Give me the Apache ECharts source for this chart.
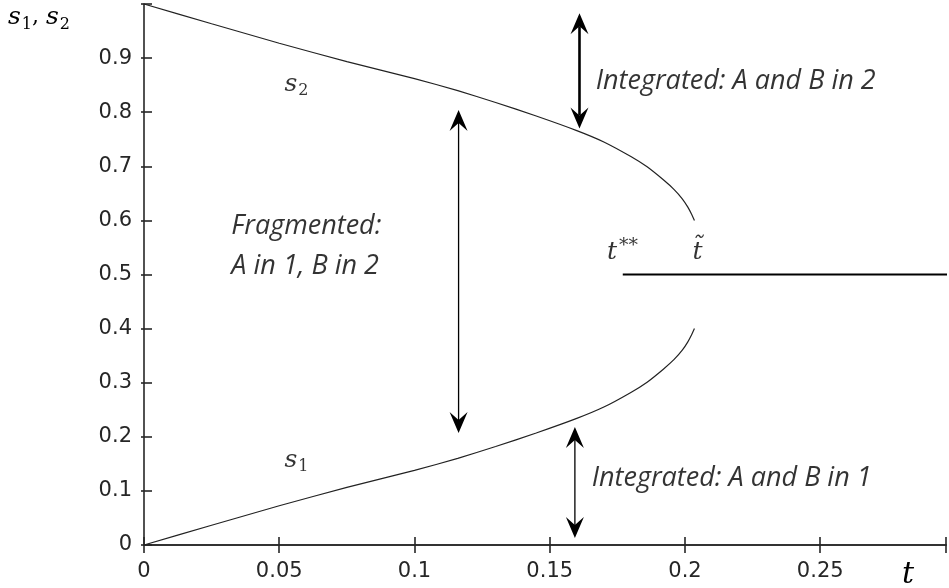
<!DOCTYPE html>
<html>
<head>
<meta charset="utf-8">
<script src="https://cdn.jsdelivr.net/npm/echarts@6/dist/echarts.min.js"></script>
<style>
html, body { margin: 0; padding: 0; background: #fff; }
#chart { width: 949px; height: 588px; }
</style>
</head>
<body>
<div id="chart"></div>
<script>
// t along the two branches
var tVals  = [0, 0.025, 0.05, 0.075, 0.1, 0.116, 0.13, 0.145, 0.16, 0.17, 0.18, 0.186, 0.192, 0.196, 0.199, 0.201, 0.2025, 0.2035];
// upper branch s2
var s2Vals = [1.0, 0.9635, 0.9275, 0.8935, 0.862, 0.840, 0.818, 0.793, 0.766, 0.745, 0.718, 0.699, 0.675, 0.657, 0.640, 0.625, 0.611, 0.600];
// lower branch s1
var s1Vals = [0, 0.0365, 0.0725, 0.1065, 0.138, 0.160, 0.182, 0.207, 0.234, 0.255, 0.282, 0.301, 0.325, 0.343, 0.360, 0.375, 0.389, 0.400];
// flat part s = 0.5, from t** on
var flatT = [0.177, 0.3];
var flatS = [0.5, 0.5];
// double arrows: t, top tip, bottom tip
var arrowT      = [0.161, 0.1163, 0.1593];
var arrowTop    = [0.983, 0.804, 0.218];
var arrowBottom = [0.770, 0.207, 0.013];
// tick labels
var xTickLabels = ['0', '0.05', '0.1', '0.15', '0.2', '0.25'];
var yTickLabels = ['0', '0.1', '0.2', '0.3', '0.4', '0.5', '0.6', '0.7', '0.8', '0.9'];

function pairs(xs, ys) {
	var out = [];
	for (var i = 0; i < xs.length; i++) {
		out.push([xs[i], ys[i]]);
	}
	return out;
}

var axisColor = '#262626';
var mathFont = 'DejaVu Serif';
var textFont = 'Open Sans';
// visible part of the t axis (figure is cut at the right)
var tMax = 0.2965;

var mathRich = {
	s: { fontFamily: mathFont, fontStyle: 'italic', fontSize: 25, color: '#000' },
	sub: { fontFamily: mathFont, fontSize: 16, color: '#000', padding: [14, 0, 0, 1] },
	star: { fontFamily: mathFont, fontSize: 19, color: '#000', padding: [0, 0, 14, 2] },
	c: { fontFamily: mathFont, fontSize: 22, color: '#000' }
};

function boxAxis(pos, showLabel, labels, isX, tickLen, showLine) {
	return {
		type: 'value',
		position: pos,
		min: 0,
		max: isX ? tMax : 1,
		interval: isX ? 0.05 : 0.1,
		axisLine: { show: showLine, lineStyle: { color: axisColor, width: 1.6 } },
		axisTick: { show: true, inside: true, length: tickLen, lineStyle: { color: axisColor, width: 1.6 } },
		splitLine: { show: false },
		axisLabel: {
			show: showLabel,
			margin: isX ? 16 : 12,
			fontFamily: 'DejaVu Sans',
			fontSize: 21,
			color: axisColor,
			formatter: function(v, idx) {
				return labels[idx] !== undefined ? labels[idx] : '';
			}
		}
	};
}

var myChart = echarts.init(document.getElementById('chart'), null, { renderer: 'canvas' });

var noteStyle = { fontFamily: textFont, fontStyle: 'italic', fontSize: 27, color: '#000' };

var option = {
	animation: false,
	backgroundColor: '#fff',
	grid: { left: 144, right: 0, top: 4, bottom: 43, containLabel: false },
	xAxis: [
		boxAxis('bottom', true, xTickLabels, true, 8, true),
		boxAxis('top', false, xTickLabels, true, 8, true)
	],
	yAxis: [
		boxAxis('left', true, yTickLabels, false, 8, true),
		boxAxis('right', false, yTickLabels, false, 3, false)
	],
	graphic: [
		{
			type: 'text', left: 8, top: 5,
			style: { text: '{s|s}{sub|1}{c|, }{s|s}{sub|2}', rich: mathRich }
		},
		{
			type: 'text', left: 902, top: 560,
			style: { text: 't', font: 'italic 30px "DejaVu Serif"', fill: '#000' }
		}
	],
	series: [
		{
			name: 's2', type: 'line', data: pairs(tVals, s2Vals),
			showSymbol: false, smooth: 0.15,
			lineStyle: { color: '#222', width: 1.2 }
		},
		{
			name: 's1', type: 'line', data: pairs(tVals, s1Vals),
			showSymbol: false, smooth: 0.15,
			lineStyle: { color: '#222', width: 1.2 }
		},
		{
			name: 'flat', type: 'line', data: pairs(flatT, flatS),
			showSymbol: false,
			lineStyle: { color: '#000', width: 2 }
		},
		{
			// arrows with heads on both ends
			name: 'arrows', type: 'custom',
			data: arrowT.map(function(t, i) { return [t, arrowTop[i], arrowBottom[i]]; }),
			encode: { x: 0, y: [1, 2] },
			renderItem: function(params, api) {
				var top = api.coord([api.value(0), api.value(1)]);
				var bot = api.coord([api.value(0), api.value(2)]);
				var x = top[0];
				var lw = params.dataIndex == 0 ? 2.6 : 1.3;
				var hw = 9, hl = 21, notch = 13;
				return {
					type: 'group',
					children: [
						{ type: 'line', shape: { x1: x, y1: top[1] + notch, x2: x, y2: bot[1] - notch },
							style: { stroke: '#000', lineWidth: lw } },
						{ type: 'polygon', shape: { points: [[x, top[1]], [x + hw, top[1] + hl], [x, top[1] + notch], [x - hw, top[1] + hl]] },
							style: { fill: '#000' } },
						{ type: 'polygon', shape: { points: [[x, bot[1]], [x + hw, bot[1] - hl], [x, bot[1] - notch], [x - hw, bot[1] - hl]] },
							style: { fill: '#000' } }
					]
				};
			}
		},
		{
			// text notes placed in data coordinates
			name: 'notes', type: 'scatter', symbolSize: 0, silent: true,
			label: {
				show: true, position: [0, 0], align: 'left', verticalAlign: 'middle',
				formatter: function(p) { return p.data.text; },
				rich: mathRich
			},
			data: [
				{ value: [0.0519, 0.852], text: '{s|s}{sub|2}' },
				{ value: [0.0519, 0.157], text: '{s|s}{sub|1}' },
				{ value: [0.1712, 0.540], text: '{s|t}{star|**}' },
				{ value: [0.2028, 0.540], text: '{s|t\u0303}' },
				{ value: [0.0323, 0.5527], text: 'Fragmented:\nA in 1, B in 2',
					label: echarts.util.extend({ lineHeight: 40 }, noteStyle) },
				{ value: [0.1670, 0.8577], text: 'Integrated: A and B in 2', label: noteStyle },
				{ value: [0.1655, 0.1238], text: 'Integrated: A and B in 1', label: noteStyle }
			]
		}
	]
};

myChart.setOption(option);
</script>
</body>
</html>
